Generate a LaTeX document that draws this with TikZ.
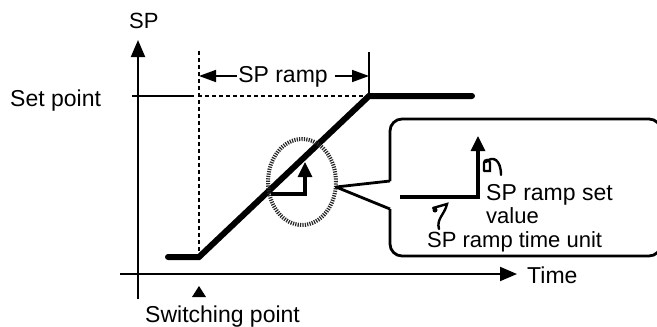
\documentclass[tikz,border=0pt]{standalone}
\usepackage{fontspec}
\setmainfont{Liberation Sans}
\usetikzlibrary{arrows.meta,shapes.geometric}
\begin{document}
\begin{tikzpicture}[x=1pt,y=-1pt,
  lbl/.style={font=\fontsize{23}{25}\selectfont, inner sep=0pt, anchor=base west},
  axis/.style={line width=2pt},
  ramp/.style={line width=6pt, line join=miter, line cap=round},
  dashline/.style={line width=1.6pt, dash pattern=on 4pt off 3pt},
  tip/.style={-{Triangle[length=17pt,width=14pt]}},
  dimtip/.style={line width=1.6pt, -{Triangle[length=17pt,width=12pt]}},
  small/.style={line width=3.2pt, -{Triangle[length=15pt,width=14pt]}},
  boxline/.style={line width=2.8pt, line join=round},
  curl/.style={line width=2.4pt, line cap=round}]
\useasboundingbox (0,0) rectangle (657,327);
% coordinates
\coordinate (ytop) at (138,40);
\coordinate (ybot) at (138,299);
\coordinate (xl) at (120,274);
\coordinate (xr) at (517,274);
\coordinate (r0) at (168,257);
\coordinate (r1) at (199,257);
\coordinate (r2) at (369,96);
\coordinate (r3) at (472,96);
% axes
\draw[axis, tip] (ybot) -- (ytop);
\draw[axis, tip] (xl) -- (xr);
\node[lbl, font=\fontsize{22}{24}\selectfont] (sp) at (129,28) {SP};
\node[lbl] (time) at (527,283) {Time};
\node[lbl] (setp) at (10,106) {Set point};
% set point tick and lines
\coordinate (tk0) at (132,96);
\coordinate (tk1) at (194,96);
\draw[line width=1.6pt] (tk0) -- (tk1);
\coordinate (d0) at (198,96);
\draw[dashline] (d0) -- (r2);
\coordinate (dv0) at (199,51);
\draw[dashline] (dv0) -- (r1);
\coordinate (rv0) at (369,52);
\draw[line width=1.6pt] (rv0) -- (r2);
% SP ramp dimension
\node[lbl, anchor=base] (spr) at (283,82) {SP ramp};
\coordinate (dl) at (199,76);
\coordinate (dr) at (369,76);
\draw[dimtip] ([xshift=-1pt]spr.west |- dl) -- (dl);
\draw[dimtip] ([xshift=7pt]spr.east |- dr) -- (dr);
% ramp
\draw[ramp] (r0) -- (r1) -- (r2) -- (r3);
% switching point
\coordinate (sw) at (199,286);
\fill (sw) -- ++(-7,11) -- ++(14,0) -- cycle;
\node[lbl] (swp) at (145,322) {Switching point};
% dotted ellipse
\node[draw=gray!30!black, line width=4pt, dash pattern=on 1.2pt off 1.2pt,
  ellipse, minimum width=68pt, minimum height=86pt, inner sep=0pt] (ell) at (302,182) {};
\coordinate (a0) at (271,194);
\coordinate (a1) at (305,194);
\coordinate (a2) at (305,162);
\draw[small] (a0) -- (a1) -- (a2);
% callout box
\coordinate (ptip) at (336,187);
\coordinate (pt) at (390,181);
\coordinate (pb) at (390,209);
\draw[boxline, rounded corners=12pt] (pt) -- (390,119) -- (661,119) -- (661,256) -- (390,256) -- (pb);
\draw[boxline] (pt) -- (ptip) -- (pb);
% inside callout
\coordinate (b0) at (400,197);
\coordinate (b1) at (478,197);
\coordinate (b2) at (478,136);
\draw[small] (b0) -- (b1) -- (b2);
\node[lbl] (srv) at (486,200) {SP ramp set};
\node[lbl, font=\fontsize{22}{24}\selectfont] (val) at (486,223) {value};
\node[lbl, font=\fontsize{22}{24}\selectfont] (stu) at (427,247) {SP ramp time unit};
% curl marks
\draw[curl] (484,171) -- (484,163) .. controls (484,159) and (490,159) .. (490,163) -- (490,171) -- (484,171);
\draw[curl] (486,162) .. controls (493,155) and (501,160) .. (501,175);
\draw[curl] (433,208) -- (447,204) .. controls (445,214) and (436,219) .. (439,229);
\fill (435,210) circle (2.5pt);
\end{tikzpicture}
\end{document}
